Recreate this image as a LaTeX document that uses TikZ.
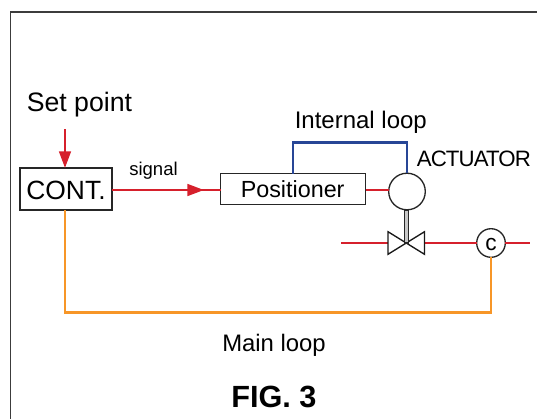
\documentclass[tikz,border=0pt]{standalone}
\usepackage{fontspec}
\setmainfont{Liberation Sans}
\usetikzlibrary{arrows.meta}
\definecolor{sigred}{RGB}{214,32,44}
\definecolor{mainor}{RGB}{247,150,40}
\definecolor{intblue}{RGB}{40,70,150}
\definecolor{frameg}{RGB}{60,60,60}
\tikzset{x=0.75pt,y=-0.75pt,
 box/.style={draw=black!85,line width=1pt,fill=white,inner sep=0pt,outer sep=0pt},
 txt/.style={inner sep=0pt,text=black},
 redl/.style={draw=sigred,line width=1.8pt},
 orl/.style={draw=mainor,line width=1.8pt},
 bluel/.style={draw=intblue,line width=1.8pt},
 tip/.style={-{Triangle[length=12.5pt,width=8.8pt]}}}
\begin{document}
\begin{tikzpicture}
\useasboundingbox (0,0) rectangle (537,419);
\draw[frameg,line width=1.1pt] (10.5,419) -- (10.5,12) -- (537,12);
\coordinate (set) at (65,129);
\coordinate (pl) at (341,243);
\coordinate (pr) at (530,243);
\coordinate (b1) at (65,312.5);
\coordinate (b2) at (491,312.5);
\coordinate (t1) at (293,142.5);
\coordinate (t2) at (407,142.5);
\coordinate (vl) at (388,243);
\coordinate (vr) at (424.5,243);
\coordinate (sigm) at (204,190);
\node[box,minimum width=92*0.75pt,minimum height=42*0.75pt] (cont) at (66,189) {};
\node[box,minimum width=145*0.75pt,minimum height=30.5*0.75pt] (pos) at (293.2,189) {};
\node[box,circle,minimum size=36.6*0.75pt] (act) at (407,191.5) {};
\node[box,circle,minimum size=28.6*0.75pt] (c) at (491,243) {};
\draw[redl,tip] (set) -- (set |- cont.north);
\draw[redl] (cont.east |- sigm) -- (pos.west |- sigm);
\draw[redl,tip] (cont.east |- sigm) -- (sigm);
\draw[redl] (pos.east |- sigm) -- (act.west |- sigm);
\draw[redl] (pl) -- (vl);
\draw[redl] (vr) -- (c.west |- vr);
\draw[redl] (c.east |- pr) -- (pr);
\draw[orl] (set |- cont.south) -- (b1) -- (b2) -- (c.south);
\draw[bluel] (t1 |- pos.north) -- (t1) -- (t2) -- (act.north);
\draw[black!90,line width=1pt,fill=white,line join=miter] (388,231.7) -- (424.5,254.3) -- (424.5,231.7) -- (388,254.3) -- cycle;
\draw[black!85,line width=0.8pt,fill=black!22] (404.2,210) rectangle (408.8,243);
\node[txt,anchor=base west,font=\fontsize{20}{22}\selectfont] (lset) at (26.5,111.7) {Set point};
\node[txt,anchor=base,font=\fontsize{19.8}{22}\selectfont] (lcont) at (66,199.3) {CONT.};
\node[txt,anchor=base west,font=\fontsize{13.9}{16}\selectfont] (lsig) at (129,175) {signal};
\node[txt,anchor=base west,font=\fontsize{17.5}{20}\selectfont] (lpos) at (240.5,197.3) {Positioner};
\node[txt,anchor=base west,font=\fontsize{18}{20}\selectfont] (lint) at (294.5,128.3) {Internal loop};
\node[txt,anchor=base west,font=\fontsize{16.7}{19}\selectfont] (lact) at (416.5,166.7) {\addfontfeatures{LetterSpace=-4}ACTUATOR};
\node[txt,anchor=base,font=\fontsize{17}{19}\selectfont] (lc) at (491,250) {c};
\node[txt,anchor=base west,font=\fontsize{17.9}{20}\selectfont] (lmain) at (222,351) {Main loop};
\node[txt,anchor=base west,font=\fontsize{23}{26}\selectfont\bfseries] (lfig) at (231,407.7) {FIG. 3};
\end{tikzpicture}
\end{document}
